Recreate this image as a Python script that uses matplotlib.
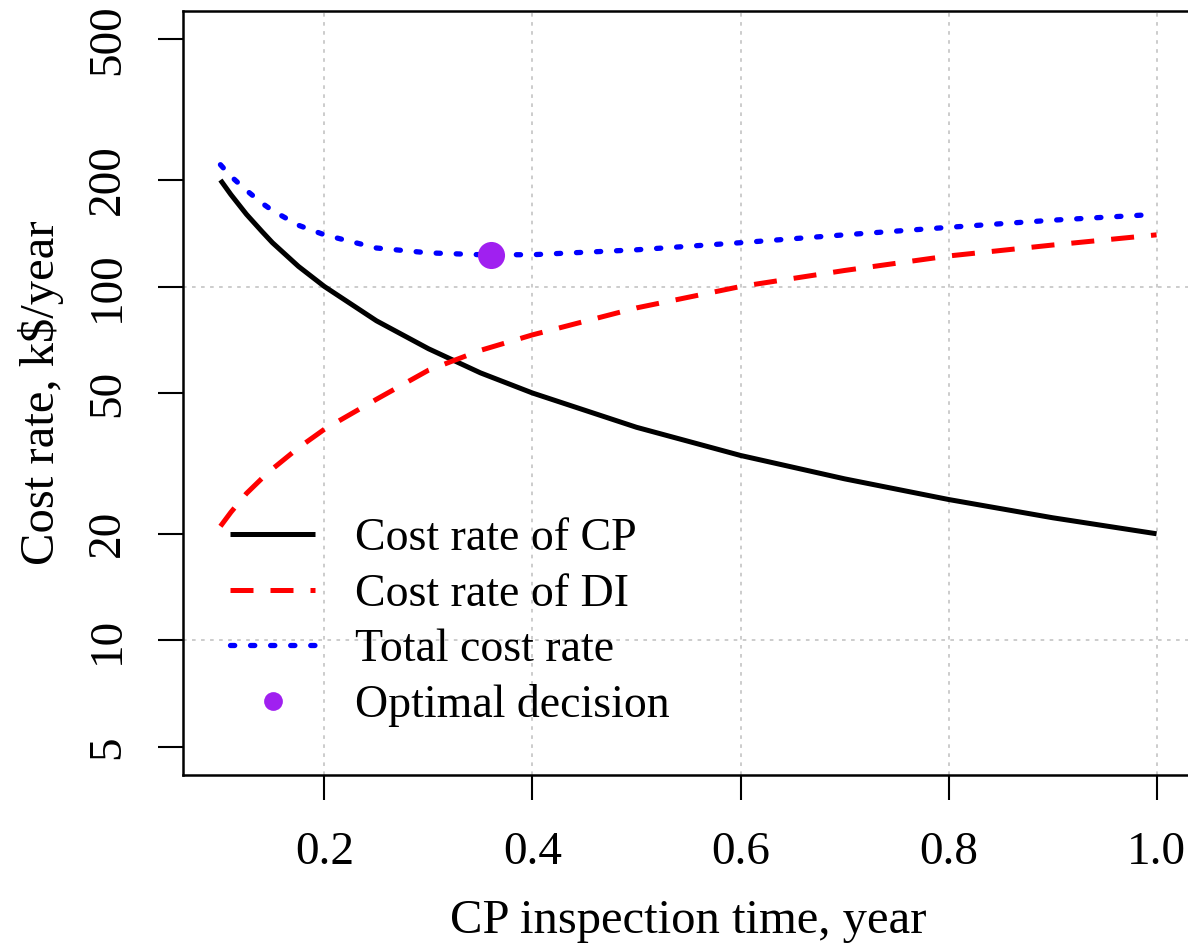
import matplotlib
matplotlib.use("Agg")
import matplotlib.pyplot as plt

plt.rcParams['font.family'] = ['Liberation Serif', 'DejaVu Serif']

# CP inspection time (year)
t = [0.1, 0.11, 0.125, 0.14, 0.15, 0.175, 0.2, 0.25, 0.3, 0.35, 0.4, 0.5, 0.6, 0.7, 0.8, 0.9, 1.0]
# cost rates, k$/year
cp_cost = [200, 182, 160, 143, 133, 114, 100, 80, 66.7, 57, 50, 40, 33.3, 28.6, 25, 22.2, 20]
di_cost = [21, 23, 26, 28.7, 30.5, 35, 39.5, 48, 58, 66, 73, 87, 100, 111, 122, 131, 140]
total_cost = [221, 205, 187, 172, 164, 149, 140, 128.5, 124.5, 123, 123, 127, 133, 140, 147, 154, 160]
opt_t = [0.36]
opt_cost = [123]

yticks = [5, 10, 20, 50, 100, 200, 500]
xticks = [0.2, 0.4, 0.6, 0.8, 1.0]

fig = plt.figure(figsize=(11.88, 9.5), dpi=100)
ax = fig.add_axes([183/1188, 1 - 775/950, (1194 - 183)/1188, (775 - 11)/950])

ax.plot(t, cp_cost, color='black', lw=3.6, solid_capstyle='butt', label='Cost rate of CP')
ax.plot(t, di_cost, color='red', lw=3.6, dashes=(4.6, 3.4), dash_capstyle='butt', label='Cost rate of DI')
ax.plot(t, total_cost, color='blue', lw=3.8, dashes=(0.8, 3.0), dash_capstyle='round', label='Total cost rate')
ax.plot(opt_t, opt_cost, 'o', color='#A020F0', ms=19.5, mec='none', zorder=5)
# smaller marker just for the legend
ax.plot([], [], 'o', color='#A020F0', ms=13.5, mec='none', label='Optimal decision')

ax.set_yscale('log')
ax.set_xlim(0.064, 1.036)
ax.set_ylim(4.16, 601)

# grid like R's grid() on log axis: decades only
for g in xticks:
    ax.axvline(g, color='#c8c8c8', lw=1.3, ls=(0, (2, 3)), zorder=0)
for g in [10, 100]:
    ax.axhline(g, color='#c8c8c8', lw=1.3, ls=(0, (2, 3)), zorder=0)

ax.set_xticks(xticks)
ax.set_xticklabels(['0.2', '0.4', '0.6', '0.8', '1.0'])
ax.set_yticks(yticks)
ax.set_yticklabels([str(v) for v in yticks], rotation=90, va='center')
ax.minorticks_off()
ax.tick_params(axis='both', labelsize=34, length=18, width=1.5, direction='out')
ax.tick_params(axis='x', pad=23)
ax.tick_params(axis='y', pad=21)
for s in ax.spines.values():
    s.set_linewidth(1.8)

ax.set_xlabel('CP inspection time, year', fontsize=35, labelpad=18)
ax.set_ylabel('Cost rate, k$/year', fontsize=35, labelpad=16)

leg = ax.legend(loc='upper left', bbox_to_anchor=(230/1188, 1 - 518/950),
                bbox_transform=fig.transFigure, frameon=False, fontsize=33,
                handlelength=1.86, handletextpad=0.87, labelspacing=0.28,
                borderpad=0, borderaxespad=0)

fig.savefig('out.png', dpi=100)
